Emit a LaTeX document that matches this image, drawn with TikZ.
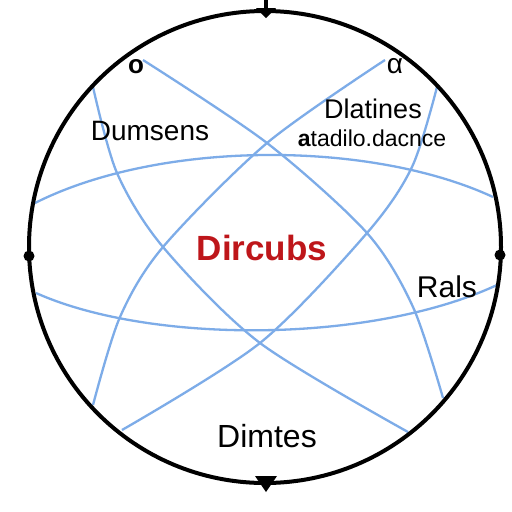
\documentclass[tikz,border=0pt]{standalone}
\usepackage{fontspec}
\setmainfont{Liberation Sans}
\usetikzlibrary{calc}
\definecolor{arcblue}{RGB}{125,172,232}
\definecolor{darkred}{RGB}{190,22,26}
\newcommand{\fsz}[1]{\fontsize{#1}{#1}\selectfont}
\begin{document}
\begin{tikzpicture}[x=1pt,y=-1pt,
    rim/.style={line width=4pt,black},
    arc/.style={line width=2.3pt,arcblue},
    lbl/.style={inner sep=0pt,text=black},
    knob/.style={fill=black,draw=none}]
    \useasboundingbox (0,0) rectangle (512,512);
    \fill[white] (0,0) rectangle (512,512);

    % Blue arcs
    \draw[arc] (35,203) .. controls (160,140) and (370,140) .. (493,197);
    \draw[arc] (36,293) .. controls (150,344) and (370,344) .. (497,285);
    \draw[arc] plot[smooth] coordinates {(143,60) (267,143) (367,233) (413,307) (443,398)};
    \draw[arc] plot[smooth] coordinates {(385,60) (267,143) (163,247) (120,317) (93,405)};
    \draw[arc] plot[smooth] coordinates {(93,87) (117,173) (163,247) (260,343) (408,432)};
    \draw[arc] plot[smooth] coordinates {(437,87) (412,167) (367,233) (260,343) (122,430)};

    % Outer circle
    \coordinate (c) at (265,247);
    \draw[rim] (c) circle[radius=236];

    % Markers on the circle
    \coordinate (top) at (266,11);
    \coordinate (bot) at (266,483);
    \draw[rim] (266,0) -- (top);
    \fill[knob] ($(top)+(-10,-3)$) -- ($(top)+(10,-3)$) -- ($(top)+(0,7)$) -- cycle;
    \fill[knob] ($(bot)+(-11,-7)$) -- ($(bot)+(11,-7)$) -- ($(bot)+(0,9)$) -- cycle;
    \fill[knob] (29,256) circle[radius=5.5];
    \fill[knob] (500,255) circle[radius=5.5];

    % Labels
    \node[lbl,font=\fsz{26}\bfseries] (o) at (136,67) {o};
    \node[lbl,font=\fsz{28}] (alpha) at (395,66) {α};
    \node[lbl,font=\fsz{28}] (dumsens) at (150,131) {Dumsens};
    \node[lbl,font=\fsz{27}] (dlatines) at (373,109) {Dlatines};
    \node[lbl,font=\fsz{23}] (atadilo) at (372,138) {\textbf{a}tadilo.dacnce};
    \node[lbl,font=\fsz{35}\bfseries,text=darkred] (dircubs) at (262,248) {Dircubs};
    \node[lbl,font=\fsz{30}] (rals) at (447,287) {Rals};
    \node[lbl,font=\fsz{32}] (dimtes) at (267,436) {Dimtes};
\end{tikzpicture}
\end{document}
